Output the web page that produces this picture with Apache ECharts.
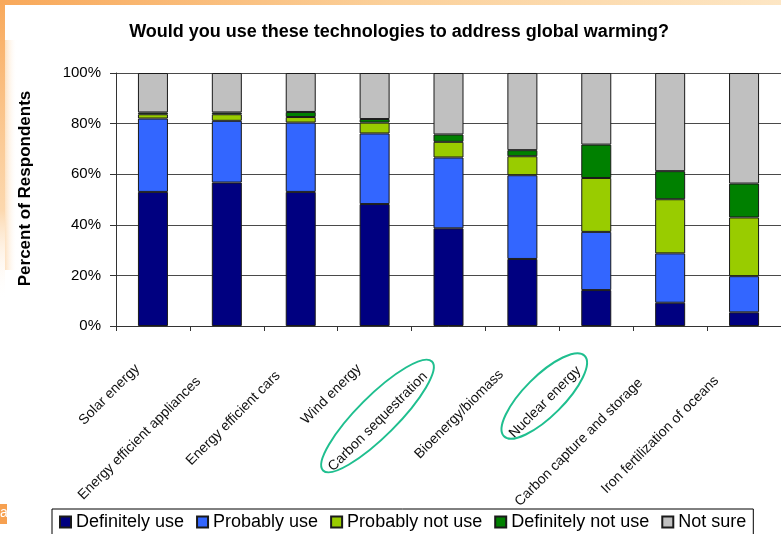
<!DOCTYPE html>
<html>
<head>
<meta charset="utf-8">
<script src="https://cdn.jsdelivr.net/npm/echarts@6/dist/echarts.min.js"></script>
<style>
html,body{margin:0;padding:0;background:#ffffff;}
#chart{width:781px;height:534px;}
</style>
</head>
<body>
<div id="chart"></div>
<script>
// ---------- data ----------
const categories = [
  'Solar energy',
  'Energy efficient appliances',
  'Energy efficient cars',
  'Wind energy',
  'Carbon sequestration',
  'Bioenergy/biomass',
  'Nuclear energy',
  'Carbon capture and storage',
  'Iron fertilization of oceans'
];
const seriesNames = ['Definitely use', 'Probably use', 'Probably not use', 'Definitely not use', 'Not sure'];
const definitelyUse  = [53.0, 56.7, 53.0, 48.2, 38.6, 26.5, 14.2,  9.2,  5.4];
const probablyUse    = [29.0, 24.4, 27.4, 27.9, 28.0, 33.1, 23.0, 19.5, 14.3];
const probablyNotUse = [ 1.7,  2.6,  2.2,  4.3,  6.2,  7.5, 21.3, 21.4, 23.2];
const definitelyNot  = [ 0.7,  0.7,  2.0,  1.4,  2.9,  2.4, 13.2, 11.1, 13.4];
const notSure        = [15.6, 15.6, 15.4, 18.2, 24.3, 30.5, 28.3, 38.8, 43.7];
const yTickValues = [0, 20, 40, 60, 80, 100];
const circledCategories = ['Carbon sequestration', 'Nuclear energy'];

// ---------- styling ----------
const FONT = '"Liberation Sans", Arial, Helvetica, sans-serif';
const colors = ['#000080', '#3366FF', '#99CC00', '#008000', '#C0C0C0'];
const seriesValues = [definitelyUse, probablyUse, probablyNotUse, definitelyNot, notSure];

// per-label shift along the rotated text (longer labels sit a bit lower, like the original)
const measureCtx = document.createElement('canvas').getContext('2d');
measureCtx.font = '14px "Liberation Sans", Arial, sans-serif';
const rich = {};
categories.forEach(function (c, i) {
  const L = measureCtx.measureText(c).width;
  rich['c' + i] = {
    fontSize: 14,
    fontFamily: FONT,
    color: '#111',
    padding: [0, Math.round(0.212 * L + 5), 0, 0]
  };
});

const chart = echarts.init(document.getElementById('chart'), null, {renderer: 'canvas'});

const option = {
  animation: false,
  backgroundColor: '#ffffff',
  title: {
    text: 'Would you use these technologies to address global warming?',
    left: 399,
    top: 23,
    padding: 0,
    textAlign: 'center',
    textStyle: {fontFamily: FONT, fontSize: 18, fontWeight: 'bold', color: '#000'}
  },
  legend: {
    data: seriesNames,
    left: 52,
    top: 509,
    orient: 'horizontal',
    padding: [4, 7, 4, 7],
    itemGap: 12,
    itemWidth: 11,
    itemHeight: 11,
    icon: 'rect',
    borderColor: '#000',
    borderWidth: 1,
    backgroundColor: '#fff',
    textStyle: {fontFamily: FONT, fontSize: 18, color: '#000'},
    selectedMode: false
  },
  grid: {left: 116, right: -7, top: 73, bottom: 208, containLabel: false},
  xAxis: {
    type: 'category',
    data: categories,
    axisLine: {lineStyle: {color: '#333', width: 1}},
    axisTick: {show: true, length: 5, lineStyle: {color: '#333'}},
    axisLabel: {
      interval: 0,
      rotate: 45,
      margin: 25,
      fontFamily: FONT,
      fontSize: 14,
      color: '#111',
      formatter: function (v, i) { return '{c' + i + '|' + v + '}'; },
      rich: rich
    },
    splitLine: {show: false}
  },
  yAxis: {
    type: 'value',
    min: yTickValues[0],
    max: yTickValues[yTickValues.length - 1],
    interval: yTickValues[1] - yTickValues[0],
    name: 'Percent of Respondents',
    nameLocation: 'middle',
    nameGap: 82,
    nameTextStyle: {fontFamily: FONT, fontSize: 17, fontWeight: 'bold', color: '#000', padding: [0, 0, 0, 22]},
    axisLine: {show: true, lineStyle: {color: '#333', width: 1}},
    axisTick: {show: true, length: 6, lineStyle: {color: '#333'}},
    axisLabel: {formatter: '{value}%', fontFamily: FONT, fontSize: 15, color: '#000', margin: 15},
    splitLine: {show: true, lineStyle: {color: '#4a4a4a', width: 1}}
  },
  series: seriesNames.map(function (n, k) {
    return {
      name: n,
      type: 'bar',
      stack: 'total',
      barWidth: 30,
      data: seriesValues[k],
      itemStyle: {color: colors[k], borderColor: '#1a1a1a', borderWidth: 1},
      emphasis: {disabled: true}
    };
  })
};

chart.setOption(option);

// slide decoration + annotation ellipses placed from the axis scale
const axisY = chart.convertToPixel({yAxisIndex: 0}, 0);
const cxSeq = chart.convertToPixel({xAxisIndex: 0}, categories.indexOf(circledCategories[0]));
const cxNuc = chart.convertToPixel({xAxisIndex: 0}, categories.indexOf(circledCategories[1]));

chart.setOption({
  graphic: [
    {type: 'rect', left: 0, top: 0, z: 100, shape: {width: 781, height: 5},
     style: {fill: new echarts.graphic.LinearGradient(0, 0, 1, 0, [
       {offset: 0, color: '#F8A85A'}, {offset: 0.5, color: '#FBD09A'}, {offset: 1, color: '#FDE6C4'}])}},
    {type: 'rect', left: 0, top: 0, z: 100, shape: {width: 5, height: 300},
     style: {fill: new echarts.graphic.LinearGradient(0, 0, 0, 1, [
       {offset: 0, color: '#F8A85A'}, {offset: 0.7, color: 'rgba(250,190,120,0.6)'}, {offset: 1, color: 'rgba(255,255,255,0)'}])}},
    {type: 'rect', left: 5, top: 40, z: 99, shape: {width: 12, height: 230},
     style: {fill: new echarts.graphic.LinearGradient(0, 0, 1, 0, [
       {offset: 0, color: 'rgba(250,190,120,0.45)'}, {offset: 1, color: 'rgba(255,255,255,0)'}])}},
    {type: 'rect', left: 0, top: 504, z: 100, shape: {width: 7, height: 20}, style: {fill: '#F6A050'}},
    {type: 'text', left: 0, top: 506, z: 101, style: {text: 'a', fill: '#fff', fontSize: 14, fontFamily: FONT}},
    {type: 'ellipse', x: cxSeq - 71, y: axisY + 90, rotation: Math.PI / 4, z: 50,
     shape: {cx: 0, cy: 0, rx: 77, ry: 20},
     style: {fill: 'none', stroke: '#1FBF8F', lineWidth: 2}},
    {type: 'ellipse', x: cxNuc - 52, y: axisY + 70, rotation: Math.PI / 4, z: 50,
     shape: {cx: 0, cy: 0, rx: 57, ry: 20},
     style: {fill: 'none', stroke: '#1FBF8F', lineWidth: 2}}
  ]
});
</script>
</body>
</html>
